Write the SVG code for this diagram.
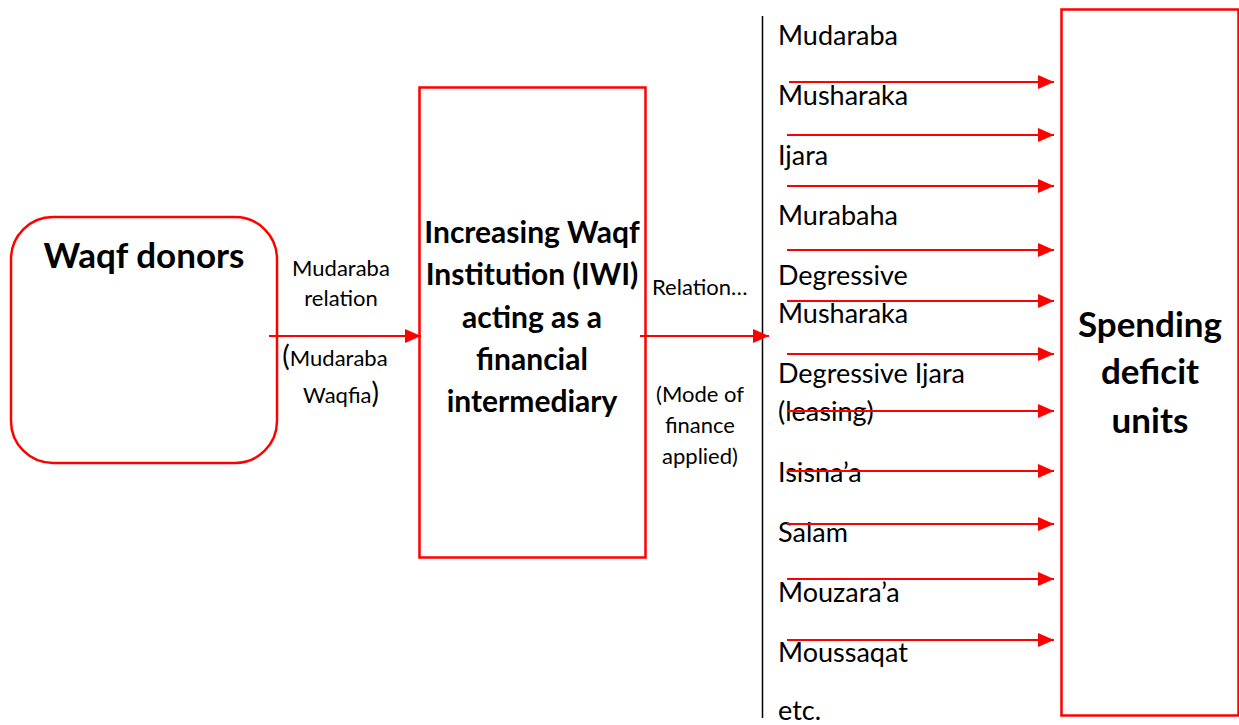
<svg xmlns="http://www.w3.org/2000/svg" width="1239" height="725" viewBox="0 0 1239 725">
<style>
.box{fill:#fff;stroke:#ff0000;stroke-width:2.5}
.t{font-family:Lato,"Liberation Sans",sans-serif;fill:#000}
.b{font-weight:bold}
.c{text-anchor:middle}
.con{stroke:#ff0000;stroke-width:2;fill:none}
</style>
<defs>
<marker id="ah" markerUnits="userSpaceOnUse" markerWidth="16" markerHeight="16" viewBox="0 0 16 16" refX="16" refY="8" orient="auto">
<path d="M0,1 L16,8 L0,15 Z" fill="#ff0000"/>
</marker>
</defs>
<rect width="1239" height="725" fill="#fff"/>
<g id="waqf-donors">
<rect class="box" x="11" y="217" width="266" height="246" rx="42" ry="42"/>
<text class="t b c" x="144" y="268" font-size="35">Waqf donors</text>
</g>
<g id="iwi">
<rect class="box" x="419.5" y="87.5" width="226" height="470"/>
<text class="t b c" font-size="30" x="532"><tspan x="532" y="243">Increasing Waqf</tspan><tspan x="532" y="285">Institution (IWI)</tspan><tspan x="532" y="328">acting as a</tspan><tspan x="532" y="370">financial</tspan><tspan x="532" y="412">intermediary</tspan></text>
</g>
<g id="spending">
<rect class="box" x="1061.5" y="9.5" width="177" height="706"/>
<text class="t b c" font-size="35" x="1150"><tspan x="1150" y="337">Spending</tspan><tspan x="1150" y="384">deficit</tspan><tspan x="1150" y="433">units</tspan></text>
</g>
<g id="modes">
<line x1="762.5" y1="16" x2="762.5" y2="718" stroke="#000" stroke-width="1.5"/>
<text class="t" font-size="27" x="778"><tspan x="778" y="45">Mudaraba</tspan><tspan x="778" y="105">Musharaka</tspan><tspan x="778" y="165">Ijara</tspan><tspan x="778" y="225">Murabaha</tspan><tspan x="778" y="285">Degressive</tspan><tspan x="778" y="323">Musharaka</tspan><tspan x="778" y="383">Degressive Ijara</tspan><tspan x="778" y="421">(leasing)</tspan><tspan x="778" y="482">Isisna’a</tspan><tspan x="778" y="542">Salam</tspan><tspan x="778" y="602">Mouzara’a</tspan><tspan x="778" y="662">Moussaqat</tspan><tspan x="778" y="720">etc.</tspan></text>
</g>
<g id="labels">
<text class="t c" font-size="22" x="341"><tspan x="341" y="276">Mudaraba</tspan><tspan x="341" y="306">relation</tspan></text>
<text class="t c" font-size="22" x="335"><tspan x="335" y="366"><tspan font-size="28">(</tspan>Mudaraba</tspan><tspan x="341" y="403">Waqfia<tspan font-size="28">)</tspan></tspan></text>
<text class="t" font-size="22" x="652" y="295">Relation…</text>
<text class="t c" font-size="22" x="700"><tspan x="700" y="402">(Mode of</tspan><tspan x="700" y="433">finance</tspan><tspan x="700" y="464">applied)</tspan></text>
</g>
<g id="connectors">
<line class="con" x1="269" y1="336" x2="421" y2="336" marker-end="url(#ah)"/>
<line class="con" x1="640" y1="336" x2="769" y2="336" marker-end="url(#ah)"/>
<line class="con" x1="789" y1="82" x2="1054" y2="82" marker-end="url(#ah)"/>
<line class="con" x1="787" y1="135" x2="1054" y2="135" marker-end="url(#ah)"/>
<line class="con" x1="787" y1="186" x2="1054" y2="186" marker-end="url(#ah)"/>
<line class="con" x1="787" y1="250" x2="1054" y2="250" marker-end="url(#ah)"/>
<line class="con" x1="787" y1="301" x2="1054" y2="301" marker-end="url(#ah)"/>
<line class="con" x1="787" y1="354" x2="1054" y2="354" marker-end="url(#ah)"/>
<line class="con" x1="787" y1="411" x2="1054" y2="411" marker-end="url(#ah)"/>
<line class="con" x1="787" y1="471" x2="1054" y2="471" marker-end="url(#ah)"/>
<line class="con" x1="787" y1="524" x2="1054" y2="524" marker-end="url(#ah)"/>
<line class="con" x1="787" y1="579" x2="1054" y2="579" marker-end="url(#ah)"/>
<line class="con" x1="787" y1="640" x2="1054" y2="640" marker-end="url(#ah)"/>
</g>
</svg>
